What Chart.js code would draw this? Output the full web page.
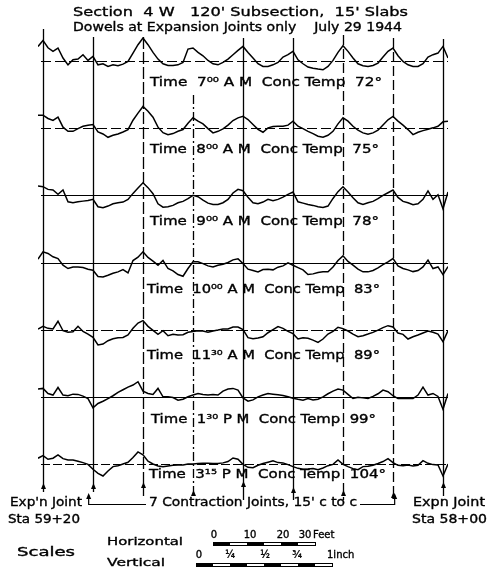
<!DOCTYPE html>
<html>
<head>
<meta charset="utf-8">
<script src="https://cdn.jsdelivr.net/npm/chart.js@4.4.0/dist/chart.umd.min.js"></script>
<style>
  html, body { margin: 0; padding: 0; background: #fff; }
  canvas { display: block; }
</style>
</head>
<body>
<canvas id="profileChart" width="495" height="570"></canvas>
<script>
// stations along the 120' subsection, feet from the Sta 59+20 expansion joint
const stationFt = [
  -1.5, 0, 1.5, 3, 4.5, 6, 7.5, 9, 10.5, 12,
  13.5, 15, 16.5, 18, 19.5, 21, 22.5, 24, 25.5, 27,
  28.5, 30, 31.5, 33, 34.5, 36, 37.5, 39, 40.5, 42,
  43.5, 45, 46.5, 48, 49.5, 51, 52.5, 54, 55.5, 57,
  58.5, 60, 61.5, 63, 64.5, 66, 67.5, 69, 70.5, 72,
  73.5, 75, 76.5, 78, 79.5, 81, 82.5, 84, 85.5, 87,
  88.5, 90, 91.5, 93, 94.5, 96, 97.5, 99, 100.5, 102,
  103.5, 105, 106.5, 108, 109.5, 111, 112.5, 114, 115.5, 117,
  118.5, 120, 121.5
];

// joints: expansion joints at both ends, 7 contraction joints 15' c to c
const jointFt = [0, 15, 30, 45, 60, 75, 90, 105, 120];

const timeLabels = ['7⁰⁰ A M', '8⁰⁰ A M', '9⁰⁰ A M', '10⁰⁰ A M', '11³⁰ A M', '1³⁰ P M', '3¹⁵ P M'];
const concTempF = [72, 75, 78, 83, 89, 99, 104];

// surface profile, hundredths of an inch above the reference line
const profile0700 = [
  11, 15.5, 10, 7.3, 9.8, 2.3, -2.8, 1, 1.5, 4.8,
  0.5, 3.5, -2.8, -2, -4, -2.8, -3.5, -2.3, -0.3, 6,
  12.3, 17.3, 12.3, 6.5, 1.5, -2, -3.3, -3.3, -2.8, -1,
  9, 9.8, 6.5, 4, 0.5, -2, -2.8, -1, 1.5, 4.8,
  8, 11, 6.5, 2.3, -2, -4, -4, -2.8, -1, 3,
  4.8, 7.3, 1, -2, -4.5, -5.3, -6, -6.5, -4, 0.5,
  6.5, 11.5, 7.3, 2.3, -2, -3.5, -4, -3.3, -1.5, 3,
  7.3, 9.8, 4, -0.3, -2.8, -4, -4, -2, 3, 4.8,
  6, 11, 2.3
];
const profile0800 = [
  9.8, 9.8, 7.3, 5.8, 8.3, 0.8, -2.3, -2.3, -0.3, 1.5,
  2.3, 2.8, -2.8, -4.3, -6.8, -5.3, -4.3, -2.8, -1, 6,
  11.3, 16.3, 12.8, 8.3, 0.8, -3.3, -4.8, -4, -2.3, -1,
  3.8, 7.8, 5.3, 3.3, -0.3, -3.5, -2.3, -0.5, 2.3, 5.8,
  7.8, 9, 6.5, 2.8, -0.8, -3, 0.3, 1.3, 1.5, 1.5,
  2.3, 5.3, 1.5, -0.3, -2.3, -4, -6, -6.8, -5.3, -2.3,
  3.3, 7.8, 5.3, 1.5, -1.5, -3.5, -4.5, -3.5, -1.5, 2.5,
  6.3, 8.8, 5.3, 2.3, -1, -4.8, -3, -1.8, -0.8, 0.3,
  1.5, 4.8, 5.3
];
const profile0900 = [
  7, 6.5, 4.5, 4, 0.8, 4, -4.8, -5.5, -4.8, -4.3,
  -3.8, -3, -8.5, -9.3, -8, -6.3, -5.5, -5, -3, 1.5,
  5.5, 9.5, 5.8, 1.3, -6.3, -8.8, -8.5, -7.5, -5.5, -4.5,
  -2.5, 0, -1, -3.5, -5.8, -6.8, -6.8, -5.5, -3, 1.8,
  4.5, 3.5, -1.5, -5.5, -6.3, -5, -3, -4, -3, -1.3,
  0.8, 2.5, -4.8, -5.8, -6.8, -7.5, -8.5, -9, -8, -2.3,
  2.8, 6.5, 2.5, -1.8, -5.5, -6.8, -5.5, -4.5, -2.5, 0,
  2, 4, -1.5, -4.5, -5.5, -7, -6.3, -3, 3.3, -3,
  0.5, -10, 2.5
];
const profile1000 = [
  2.5, 8, 6.8, 4.3, 3, -2, -4.5, -3.3, -3.3, -3.8,
  -5, -5.8, -10.5, -10.8, -9.5, -8, -7, -5.3, -7.8, 1.5,
  4, 8, 3.8, 1, -2, 1.5, -4.5, -6.3, -9, -10.3,
  -4.5, 0.5, 0.5, -0.8, -2.5, -3.3, -2, -1.3, 0, 2,
  2.8, -0.8, -5, -6, -7, -5.3, -5, -5.5, -3.5, -2.5,
  -0.3, -2, -3.8, -5.5, -9, -8.5, -7.5, -7, -7, -3.3,
  1.5, 5, 0.8, -2, -5, -7, -7, -6, -4, -1.5,
  0.5, 3, -2.5, -4.5, -5.5, -6.8, -6, -3.3, 1.8, -4.5,
  -3.3, -9, -3
];
const profile1130 = [
  0.5, 2.5, 1, 0.5, 6.3, -0.8, -2, -1.5, 2.5, -1.3,
  -3.3, -5.8, -11.5, -10.8, -8.3, -6.8, -6, -5.8, -4, 1,
  5, 6.8, 2.5, -0.5, -3.5, -0.8, -4.5, -3.5, -4, -3.8,
  -2, -1.3, -0.8, -1, -2, -1, -0.3, 0.5, 0.5, 2,
  2, 0, -6, -6.8, -6.3, -5.3, -2.3, 0, 2.3, 1,
  -1.3, -3, -7, -6, -6.5, -7.8, -9.5, -7, -3.3, -1.3,
  1.8, 0.8, -1, -3.3, -5.3, -4.5, -3.3, -2, -0.3, 1.5,
  3, 2, -2.5, -3.5, -7, -5.3, -4, -2.5, -1, -2,
  -3.3, -9, -0.8
];
const profile1330 = [
  5.8, 6.3, 2.5, 1.3, 7, 1.3, 0.8, 2, 1.8, 0.5,
  -1.3, -8.3, -5, -3.3, -1.3, 0.8, 3.3, 5.3, 7.3, 8.8,
  11.3, 4.3, 2.5, 1.8, 6.3, 0, 0, -0.5, -2.5, -1.8,
  0, 1.3, 2.5, 1.8, 1.3, 1.8, 1.3, 4.3, 5.8, 6.3,
  5, -0.8, -3.3, -2.3, 0, 1.3, 2.5, 2, 1.5, 1,
  0, -1, -1.8, -2.5, -1.3, -2.3, -1.8, 0, 2.3, 4.3,
  5.8, 5, 1.8, -1.3, -0.3, -0.8, -1.3, 0.3, 2.3, 5,
  3.8, 0.8, -1.3, -1.3, -1.3, -1.3, 1.3, 7.3, 1.3, 2.5,
  0.3, -9.3, 2.5
];
const profile1515 = [
  4.3, 6.3, 3.5, 4.3, 6.8, 4, 3, 3, 2, 1,
  -0.3, -4, -7, -9, -5.3, -2, -1.3, 0, 1.3, 4.8,
  9, 6.8, 2, 0, -1.5, -2, -1.5, -1, -0.8, -0.8,
  0, 0, 0.3, 0.5, 0.5, 0.3, 0.3, 0.8, 1.8, 4.5,
  3.5, -0.3, -2.5, -2.8, -1, 0.3, 1.3, 2.3, 1, 0.8,
  -0.5, -2, -3.3, -4, -3.8, -3.5, -4.3, -3, -1.3, -0.3,
  3, -0.3, -2, -3.5, -4.3, -2, -1.8, -1, 0.3, 1.8,
  4, 1, -1, -1.3, -0.8, -1.5, -1, 2.5, 0.5, -0.5,
  -0.8, -9, 0
];

const profiles = [profile0700, profile0800, profile0900, profile1000, profile1130, profile1330, profile1515];
const rowIds = profiles.map((p, i) => 'row' + i);

const FONT = '"DejaVu Sans", sans-serif';
const INK = '#000';

// draw text squeezed or stretched to span x0..x1, with a light pen stroke
function fitText(ctx, text, x0, x1, y, size) {
  ctx.save();
  ctx.font = size + 'px ' + FONT;
  const w = ctx.measureText(text).width;
  ctx.translate(x0, y);
  ctx.scale((x1 - x0) / w, 1);
  ctx.textAlign = 'left';
  ctx.textBaseline = 'middle';
  ctx.fillStyle = INK;
  ctx.strokeStyle = INK;
  ctx.lineWidth = 0.35;
  ctx.fillText(text, 0, 0);
  ctx.strokeText(text, 0, 0);
  ctx.restore();
}

function smallText(ctx, text, x, y, align) {
  ctx.textAlign = align;
  ctx.fillText(text, x, y);
  ctx.strokeText(text, x, y);
}

function upArrow(ctx, x, tipY) {
  ctx.beginPath();
  ctx.moveTo(x, tipY);
  ctx.lineTo(x - 2.5, tipY + 6);
  ctx.lineTo(x + 2.5, tipY + 6);
  ctx.closePath();
  ctx.fill();
}

const jointStyle = {
  dash: [[], [], [12, 3], [9, 3, 2, 3], [], [], [10, 4], [10, 4], []],
  top: [29, 37, 37, 95, 38, 38, 35, 38, 39],
  tip: [483, 483, 482, 490, 481, 487, 490, 492, 482],
  bottom: [492, 492, 496, 498, 500, 500, 500, 498, 496]
};
const baseDash = [[10, 4], [10, 4], [], [], [12, 3], [], [9, 3]];
const labelSpan = {
  x0: [150, 150, 150, 147, 147, 151, 149],
  x1: [382, 379, 379, 380, 380, 376, 386],
  drop: [22, 22, 26, 27, 26, 23, 11]
};

const sketch = {
  id: 'sketch',
  beforeDatasetsDraw(chart) {
    const ctx = chart.ctx;
    const xs = chart.scales.x;
    ctx.save();
    ctx.strokeStyle = INK;
    ctx.fillStyle = INK;

    // reference line of each trace
    ctx.lineWidth = 1;
    rowIds.forEach((id, i) => {
      const y = Math.round(chart.scales[id].getPixelForValue(0)) + 0.5;
      ctx.setLineDash(baseDash[i]);
      ctx.beginPath();
      ctx.moveTo(xs.getPixelForValue(0) - 2, y);
      ctx.lineTo(xs.getPixelForValue(121.5), y);
      ctx.stroke();
    });

    // joints
    ctx.lineWidth = 1.3;
    jointFt.forEach((ft, i) => {
      const x = Math.round(xs.getPixelForValue(ft)) + 0.5;
      ctx.setLineDash(jointStyle.dash[i]);
      ctx.beginPath();
      ctx.moveTo(x, jointStyle.top[i]);
      ctx.lineTo(x, jointStyle.bottom[i]);
      ctx.stroke();
      ctx.setLineDash([]);
      upArrow(ctx, x, jointStyle.tip[i]);
    });
    ctx.restore();
  },
  afterDraw(chart) {
    const ctx = chart.ctx;
    const xs = chart.scales.x;

    fitText(ctx, "Section  4 W   120' Subsection,  15' Slabs", 73, 408, 13, 13);
    fitText(ctx, 'Dowels at Expansion Joints only    July 29 1944', 73, 402, 28, 12);

    rowIds.forEach((id, i) => {
      const y = chart.scales[id].getPixelForValue(0) + labelSpan.drop[i];
      const txt = 'Time  ' + timeLabels[i] + '  Conc Temp  ' + concTempF[i] + '°';
      fitText(ctx, txt, labelSpan.x0[i], labelSpan.x1[i], y, 12);
    });

    // joint annotation
    fitText(ctx, "Exp'n Joint", 10, 82, 503, 12);
    fitText(ctx, 'Sta 59+20', 8, 80, 520, 12);
    fitText(ctx, 'Expn Joint', 413, 485, 503, 12);
    fitText(ctx, 'Sta 58+00', 412, 487, 520, 12);
    fitText(ctx, "7 Contraction Joints, 15' c to c", 149, 357, 503, 12);
    ctx.save();
    ctx.strokeStyle = INK;
    ctx.fillStyle = INK;
    ctx.lineWidth = 1.2;
    const xl = xs.getPixelForValue(14) - 1;
    const xr = xs.getPixelForValue(105.5);
    ctx.beginPath();
    ctx.moveTo(xl, 495);
    ctx.lineTo(xl, 504.5);
    ctx.lineTo(146, 504.5);
    ctx.moveTo(360, 504.5);
    ctx.lineTo(xr, 504.5);
    ctx.lineTo(xr, 496);
    ctx.stroke();
    upArrow(ctx, xl, 493);
    upArrow(ctx, xr, 493);

    // scales
    fitText(ctx, 'Scales', 17, 75, 553, 12);
    fitText(ctx, 'Horizontal', 107, 183, 542, 11);
    fitText(ctx, 'Vertical', 107, 165, 563, 11);
    ctx.font = '10px ' + FONT;
    ctx.textBaseline = 'middle';
    ctx.lineWidth = 0.35;
    [['0', 214], ['10', 250], ['20', 283], ['30', 305]].forEach(t => smallText(ctx, t[0], t[1], 535, 'center'));
    smallText(ctx, 'Feet', 313, 535, 'left');
    [['0', 199], ['¼', 230], ['½', 265], ['¾', 297]].forEach(t => smallText(ctx, t[0], t[1], 555, 'center'));
    smallText(ctx, '1inch', 327, 555, 'left');

    ctx.lineWidth = 1;
    const bar = (x0, y0, seg, n) => {
      for (let k = 0; k < n; k++) {
        if (k % 2 === 0) ctx.fillRect(x0 + k * seg, y0, seg, 4);
      }
      ctx.strokeRect(x0 + 0.5, y0 + 0.5, seg * n, 3);
    };
    bar(213, 542, 17, 6);
    bar(196, 563, 17, 8);
    ctx.restore();
  }
};

const scales = {
  x: { type: 'linear', min: -1.5, max: 121.5, display: false }
};
// stacked left axes are laid out last-defined on top, so add the 7 AM row last
rowIds.slice().reverse().forEach(id => {
  scales[id] = {
    type: 'linear', position: 'left', stack: 'rows', stackWeight: 1,
    min: -30, max: 20.3, display: false
  };
});

new Chart(document.getElementById('profileChart'), {
  type: 'line',
  data: {
    datasets: profiles.map((vals, i) => ({
      label: timeLabels[i],
      data: stationFt.map((ft, k) => ({ x: ft, y: vals[k] })),
      yAxisID: rowIds[i],
      borderColor: INK,
      borderWidth: 1.5,
      pointRadius: 0,
      tension: 0,
      fill: false
    }))
  },
  options: {
    responsive: false,
    animation: false,
    devicePixelRatio: 1,
    layout: { padding: { left: 38, right: 47, top: 34, bottom: 66 } },
    scales: scales,
    plugins: { legend: { display: false }, tooltip: { enabled: false } }
  },
  plugins: [sketch]
});
</script>
</body>
</html>
